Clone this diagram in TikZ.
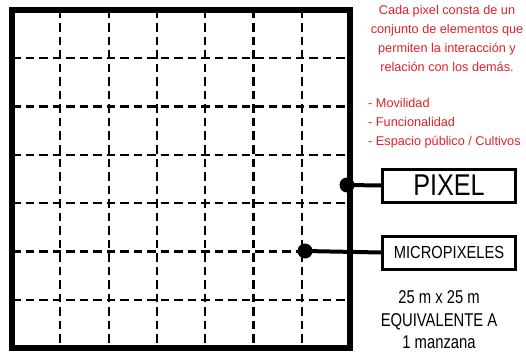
\documentclass[tikz,border=0pt]{standalone}
\usepackage{fontspec}
\setmainfont{Liberation Sans}
\newfontfamily\narrowfont[FakeStretch=0.84]{Liberation Sans}
\newfontfamily\bnarrowfont[FakeStretch=0.8]{Liberation Sans}
\definecolor{redtxt}{RGB}{228,32,40}
\begin{document}
\begin{tikzpicture}[x=1pt,y=-1pt,
  gridline/.style={line width=2.2pt,dash pattern=on 8.5pt off 5pt},
  border/.style={line width=5.5pt},
  conn/.style={line width=4pt},
  dotnode/.style={circle,fill=black,inner sep=0pt,minimum size=15pt},
  labelbox/.style={draw,line width=3pt,inner sep=0pt,minimum width=133pt,font=\narrowfont},
  redt/.style={text=redtxt,font=\fontsize{12.7}{19}\selectfont,align=center},
  bottomt/.style={font=\bnarrowfont\fontsize{18.5}{22.5}\selectfont,align=center}]
\useasboundingbox (0,0) rectangle (526,358);
% grid
\foreach \i in {1,...,6}{
  \draw[gridline] ({12+\i*48.3},10) -- ({12+\i*48.3},348);
  \draw[gridline] (12,{10+\i*48.3}) -- (350,{10+\i*48.3});
}
\draw[border] (12,10) rectangle (350,348);
% dots and connectors
\node[dotnode] (d1) at (347,185) {};
\node[dotnode] (d2) at (305,251) {};
\node[labelbox,minimum height=33pt,font=\narrowfont\fontsize{30}{30}\selectfont] (pix) at (449,185.5) {PIXEL};
\node[labelbox,minimum height=33pt,font=\narrowfont\fontsize{17.5}{18}\selectfont] (mic) at (449,252.5) {MICROPIXELES};
\draw[conn] (d1.center) -- (pix.west);
\draw[conn] (d2.center) -- (mic.west);
% red text
\node[redt,anchor=north] (t1) at (447,1.5) {Cada pixel consta de un\\conjunto de elementos que\\permiten la interacción y\\relación con los demás.};
\node[redt,anchor=north west,align=left,inner xsep=0pt] (t2) at (368,95) {- Movilidad\\- Funcionalidad\\- Espacio público / Cultivos};
% bottom text
\node[bottomt,anchor=north] (t3) at (439,287.5) {25 m x 25 m\\EQUIVALENTE A\\1 manzana};
\end{tikzpicture}
\end{document}
